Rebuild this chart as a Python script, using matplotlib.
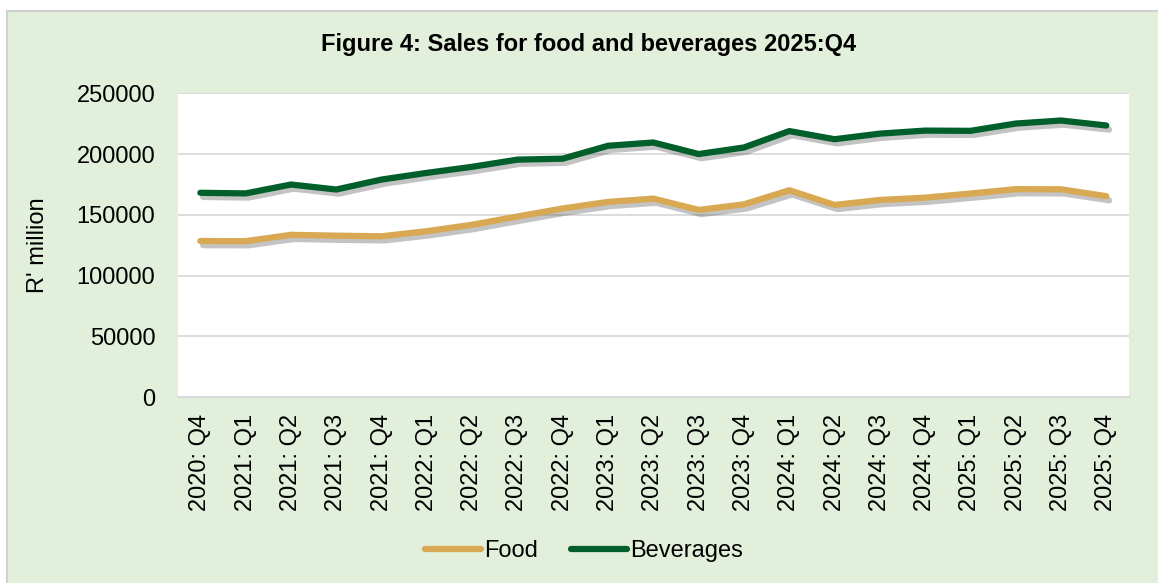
import matplotlib.pyplot as plt
import matplotlib.patheffects as pe
from matplotlib.patches import Rectangle
from matplotlib.lines import Line2D

plt.rcParams['font.family'] = ['Liberation Sans', 'DejaVu Sans']

quarters = ['2020: Q4', '2021: Q1', '2021: Q2', '2021: Q3', '2021: Q4',
            '2022: Q1', '2022: Q2', '2022: Q3', '2022: Q4', '2023: Q1',
            '2023: Q2', '2023: Q3', '2023: Q4', '2024: Q1', '2024: Q2',
            '2024: Q3', '2024: Q4', '2025: Q1', '2025: Q2', '2025: Q3',
            '2025: Q4']
food = [128400, 128300, 133500, 132800, 132300, 136500, 141800, 148600,
        155200, 160600, 163300, 154000, 158600, 170200, 158100, 162200,
        164100, 167500, 171100, 171000, 165300]
beverages = [168100, 167600, 174900, 170800, 179000, 184500, 189500, 195400,
             196200, 206800, 209500, 200000, 205400, 218900, 212200, 216800,
             219300, 219100, 225100, 227600, 223500]

food_color = '#D8A852'
bev_color = '#005F2A'

fig = plt.figure(figsize=(11.58, 5.83), dpi=100, facecolor='white')

# light green chart area with a thin grey frame
fig.patches.append(Rectangle((7 / 1158, -0.01), 1.0, (583 - 11) / 583 + 0.01,
                             transform=fig.transFigure, facecolor='#E2EFDA',
                             edgecolor='#D0D0D0', linewidth=1.5, zorder=-10))

ax = fig.add_axes([177.7 / 1158, (583 - 397) / 583, (1129 - 177.7) / 1158,
                   (397 - 93.3) / 583])
ax.set_facecolor('white')

x = range(len(quarters))
shadow = [pe.SimpleLineShadow(offset=(2, -3), shadow_color='#555555', alpha=0.35),
          pe.Normal()]
ax.plot(x, food, color=food_color, lw=4.5, solid_capstyle='round',
        solid_joinstyle='round', path_effects=shadow, zorder=3)
ax.plot(x, beverages, color=bev_color, lw=4.5, solid_capstyle='round',
        solid_joinstyle='round', path_effects=shadow, zorder=3)

ax.set_xlim(-0.5, len(quarters) - 0.5)
ax.set_ylim(0, 250000)
ax.set_yticks(range(0, 250001, 50000))
ax.set_yticklabels([str(v) for v in range(0, 250001, 50000)])
ax.set_xticks(list(x))
ax.set_xticklabels(quarters, rotation=90)
ax.tick_params(axis='both', length=0, labelsize=17)
ax.tick_params(axis='x', pad=12)
ax.tick_params(axis='y', pad=16)
ax.grid(axis='y', color='#D9D9D9', lw=1.3)
ax.set_axisbelow(True)
for side in ['left', 'right', 'top']:
    ax.spines[side].set_visible(False)
ax.spines['bottom'].set_color('#D9D9D9')
ax.spines['bottom'].set_linewidth(1.5)

ax.set_ylabel("R' million", fontsize=17, labelpad=20)
fig.text(0.508, 1 - 45 / 583, 'Figure 4: Sales for food and beverages 2025:Q4',
         ha='center', va='center', fontsize=17, fontweight='bold')

handles = [Line2D([], [], color=food_color, lw=4.5, solid_capstyle='round'),
           Line2D([], [], color=bev_color, lw=4.5, solid_capstyle='round')]
fig.legend(handles, ['Food', 'Beverages'], loc='center',
           bbox_to_anchor=(0.504, 1 - 551 / 583), ncol=2, frameon=False,
           fontsize=17, handlelength=2.4, handletextpad=0.1, columnspacing=1.4)

fig.savefig('out.png', dpi=100, facecolor=fig.get_facecolor())
